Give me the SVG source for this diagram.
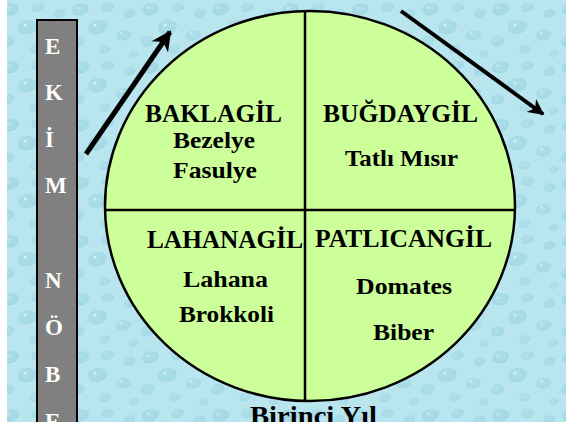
<svg xmlns="http://www.w3.org/2000/svg" width="566" height="431" viewBox="0 0 566 431">
  <style>
    .hd { font-family: "Liberation Serif", "Times New Roman", serif; font-weight: bold; font-size: 25px; fill: #000; text-anchor: middle; }
    .it { font-family: "Liberation Serif", "Times New Roman", serif; font-weight: bold; font-size: 24px; fill: #000; text-anchor: middle; }
    .vt { font-family: "Liberation Serif", "Times New Roman", serif; font-weight: bold; font-size: 23px; fill: #ffffff; }
    .ttl { font-family: "Liberation Serif", "Times New Roman", serif; font-weight: bold; font-size: 28px; fill: #000; text-anchor: middle; }
    .div { stroke: #000; stroke-width: 2.5; fill: none; }
    .arr { stroke: #000; fill: none; stroke-linecap: butt; }
  </style>
  <defs>
    <radialGradient id="drop" cx="0.4" cy="0.35" r="0.65">
      <stop offset="0" stop-color="#a6dae7"/>
      <stop offset="0.75" stop-color="#94d0e0"/>
      <stop offset="1" stop-color="#cdeff5"/>
    </radialGradient>
    <pattern id="water" width="70" height="58" patternUnits="userSpaceOnUse">
      <rect width="70" height="58" fill="#b8e5ee"/>
      <ellipse cx="11" cy="10" rx="9" ry="7" fill="url(#drop)" opacity="0.6"/>
      <ellipse cx="38" cy="8" rx="7" ry="5" fill="url(#drop)" opacity="0.5"/>
      <ellipse cx="60" cy="14" rx="6" ry="5" fill="url(#drop)" opacity="0.55"/>
      <ellipse cx="28" cy="28" rx="10" ry="8" fill="url(#drop)" opacity="0.55"/>
      <ellipse cx="54" cy="36" rx="8" ry="6" fill="url(#drop)" opacity="0.5"/>
      <ellipse cx="8" cy="42" rx="7" ry="6" fill="url(#drop)" opacity="0.55"/>
      <ellipse cx="35" cy="50" rx="6" ry="5" fill="url(#drop)" opacity="0.45"/>
      <ellipse cx="64" cy="54" rx="5" ry="4" fill="url(#drop)" opacity="0.45"/>
      <circle cx="8" cy="8" r="1" fill="#e4f8fb" opacity="0.8"/>
      <circle cx="25" cy="25" r="1.2" fill="#e4f8fb" opacity="0.8"/>
      <circle cx="51" cy="33" r="1" fill="#e4f8fb" opacity="0.8"/>
    </pattern>
    <marker id="head" viewBox="0 0 10 10" refX="9" refY="5" markerWidth="4" markerHeight="4" orient="auto" markerUnits="strokeWidth">
      <path d="M0,0 L10,5 L0,10 L3,5 Z" fill="#000"/>
    </marker>
  </defs>

  <rect id="background" x="0" y="0" width="566" height="431" fill="url(#water)"/>

  <g id="ekim-nobeti">
    <rect x="37" y="20" width="40" height="410" fill="#808080" stroke="#000" stroke-width="2"/>
    <text class="vt" x="45" y="54">E</text>
    <text class="vt" x="45" y="100">K</text>
    <text class="vt" x="45" y="147">İ</text>
    <text class="vt" x="45" y="193">M</text>
    <text class="vt" x="45" y="288">N</text>
    <text class="vt" x="45" y="335">Ö</text>
    <text class="vt" x="45" y="382">B</text>
    <text class="vt" x="45" y="429">E</text>
  </g>

  <g id="circle">
    <ellipse cx="310" cy="206" rx="205" ry="195" fill="#ccff99" stroke="#000" stroke-width="2.5"/>
    <line class="div" x1="305" y1="11" x2="305" y2="401"/>
    <line class="div" x1="105" y1="210" x2="515" y2="210"/>
  </g>

  <g id="baklagil">
    <text class="hd" x="213.5" y="122" textLength="137" lengthAdjust="spacingAndGlyphs">BAKLAGİL</text>
    <text class="it" x="214" y="148" textLength="82" lengthAdjust="spacingAndGlyphs">Bezelye</text>
    <text class="it" x="215" y="178" textLength="84" lengthAdjust="spacingAndGlyphs">Fasulye</text>
  </g>

  <g id="bugdaygil">
    <text class="hd" x="400.5" y="122" textLength="155" lengthAdjust="spacingAndGlyphs">BUĞDAYGİL</text>
    <text class="it" x="401.5" y="166" textLength="113" lengthAdjust="spacingAndGlyphs">Tatlı Mısır</text>
  </g>

  <g id="lahanagil">
    <text class="hd" x="225" y="248" textLength="156" lengthAdjust="spacingAndGlyphs">LAHANAGİL</text>
    <text class="it" x="225.5" y="287" textLength="85" lengthAdjust="spacingAndGlyphs">Lahana</text>
    <text class="it" x="226.5" y="322" textLength="95" lengthAdjust="spacingAndGlyphs">Brokkoli</text>
  </g>

  <g id="patlicangil">
    <text class="hd" x="403.5" y="247" textLength="177" lengthAdjust="spacingAndGlyphs">PATLICANGİL</text>
    <text class="it" x="404" y="294" textLength="96" lengthAdjust="spacingAndGlyphs">Domates</text>
    <text class="it" x="403.5" y="340" textLength="61" lengthAdjust="spacingAndGlyphs">Biber</text>
  </g>

  <g id="title">
    <text class="ttl" x="313.5" y="425" textLength="127" lengthAdjust="spacingAndGlyphs">Birinci Yıl</text>
  </g>

  <g id="connectors">
    <line class="arr" x1="86" y1="154" x2="170" y2="32" stroke-width="5" marker-end="url(#head)"/>
    <line class="arr" x1="401" y1="11" x2="543" y2="114" stroke-width="4" marker-end="url(#head)"/>
  </g>

  <rect x="0" y="0" width="7" height="431" fill="#ffffff"/>
  <rect x="0" y="422" width="566" height="9" fill="#ffffff"/>
</svg>
